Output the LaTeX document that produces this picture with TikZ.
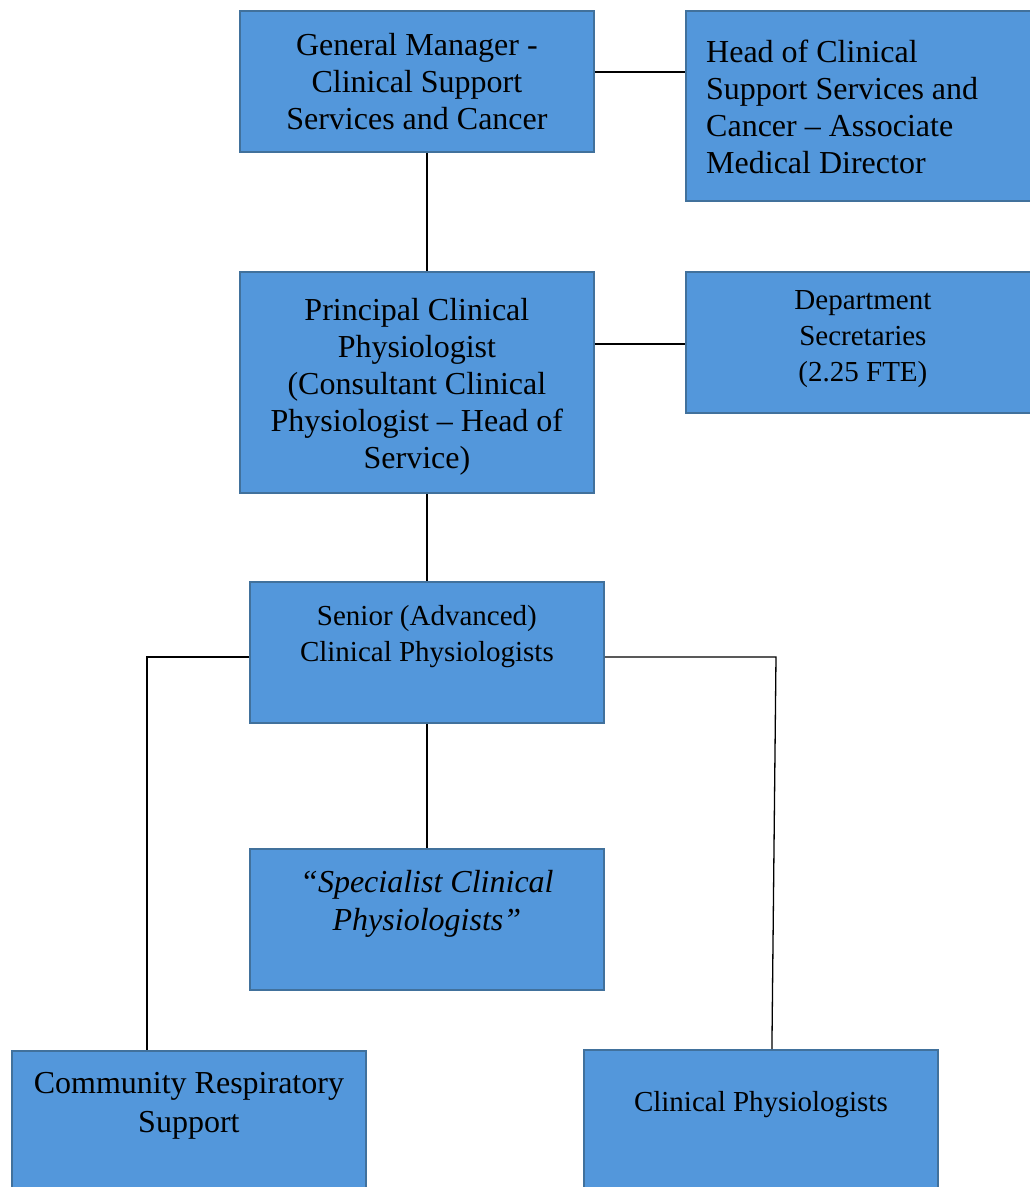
\documentclass[tikz,border=0pt]{standalone}
\usepackage{fontspec}
\setmainfont{Liberation Serif}
\usetikzlibrary{positioning}
\definecolor{boxblue}{RGB}{83,151,219}
\definecolor{boxline}{RGB}{65,113,156}

\begin{document}
\begin{tikzpicture}[x=1pt,y=-1pt,
    link/.style={draw=black, line width=1.6pt}]

        \useasboundingbox (0,0) rectangle (1029,1187);

        \begin{scope}[every node/.style={draw=boxline, fill=boxblue, line width=1.8pt, anchor=north west,
                      inner sep=0pt, minimum width=354pt, minimum height=141pt}]
          \node (gm)     at (239,10)   {};
          \node[minimum height=190pt] (head) at (685,10) {};
          \node[minimum height=221pt] (prin) at (239,271) {};
          \node (dept)   at (685,271)  {};
          \node (senior) at (249,581)  {};
          \node (spec)   at (249,848)  {};
          \node (comm)   at (11,1050)  {};
          \node (clin)   at (583,1049) {};
        \end{scope}

        \begin{scope}[every node/.style={inner sep=0pt, align=center, font=\fontsize{32}{37}\selectfont}]
          \node[below=23pt of gm.north] (gmtext) {General Manager -\\Clinical Support\\Services and Cancer};
          \node[below right=30pt and 21pt of head.north west, align=left] (headtext) {Head of Clinical\\Support Services and\\Cancer – Associate\\Medical Director};
          \node[below=27pt of prin.north] (printext) {Principal Clinical\\Physiologist\\(Consultant Clinical\\Physiologist – Head of\\Service)};
          \node[below=19pt of dept.north, font=\fontsize{29}{36}\selectfont] (depttext) {Department\\Secretaries\\(2.25 FTE)};
          \node[below=24pt of senior.north, font=\fontsize{29}{36}\selectfont] (seniortext) {Senior (Advanced)\\Clinical Physiologists};
          \node[below=22pt of spec.north, font=\fontsize{32}{38}\selectfont\itshape] (spectext) {“Specialist Clinical\\Physiologists”};
          \node[below=22pt of comm.north, font=\fontsize{32}{39}\selectfont] (commtext) {Community Respiratory\\Support};
          \node[below=42pt of clin.north, font=\fontsize{29}{36}\selectfont] (clintext) {Clinical Physiologists};
        \end{scope}

        \coordinate (bend) at ([yshift=-4.5pt]senior.east -| 776,0);

        \draw[link] ([yshift=9.5pt]gm.east) -- ([yshift=34pt]head.west);
        \draw[link] ([xshift=10pt]gm.south) -- ([xshift=10pt]prin.north);
        \draw[link] ([yshift=38.5pt]prin.east) -- ([yshift=-1.5pt]dept.west);
        \draw[link] ([xshift=10pt]prin.south) -- (senior.north);
        \draw[link] (senior.south) -- (spec.north);
        \draw[link, line width=1.3pt] ([yshift=-4.5pt]senior.west) -| ([xshift=-42pt]comm.north);
        \draw[link, line width=1.3pt] ([yshift=-4.5pt]senior.east) -- (bend) -- ([xshift=11pt]clin.north);

      \end{tikzpicture}
\end{document}
